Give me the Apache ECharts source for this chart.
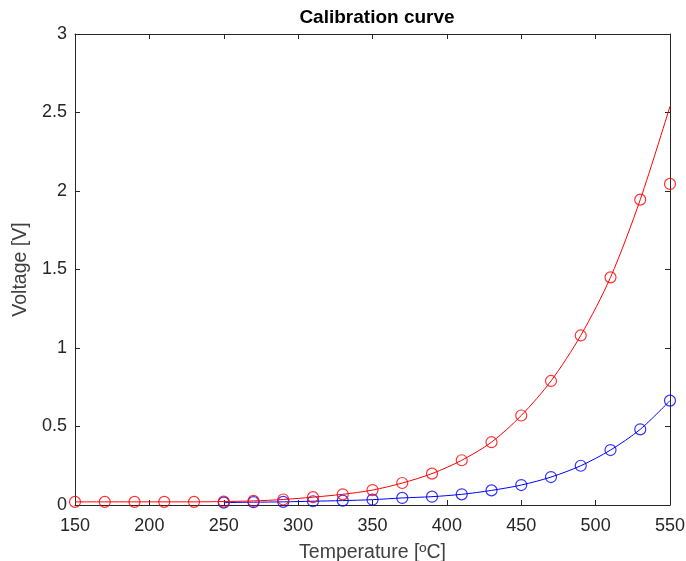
<!DOCTYPE html>
<html>
<head>
<meta charset="utf-8">
<title>Calibration curve</title>
<script src="https://cdn.jsdelivr.net/npm/echarts/dist/echarts.min.js"></script>
<style>
  html, body { margin: 0; padding: 0; background: #fff; }
  #main { width: 686px; height: 561px; }
</style>
</head>
<body>
<div id="main"></div>
<script>
// temperatures of the measured points [ºC]
const tempRed = [150, 170, 190, 210, 230, 250, 270, 290, 310, 330, 350, 370, 390, 410, 430, 450, 470, 490, 510, 530, 550];
const voltRed = [0.02, 0.02, 0.02, 0.02, 0.02, 0.022, 0.026, 0.035, 0.05, 0.068, 0.095, 0.14, 0.2, 0.285, 0.4, 0.57, 0.79, 1.08, 1.45, 1.945, 2.045];
// fitted curve for red (last point off the fit)
const fitRed = [0.02, 0.02, 0.02, 0.02, 0.02, 0.022, 0.026, 0.035, 0.05, 0.068, 0.095, 0.14, 0.2, 0.285, 0.4, 0.57, 0.79, 1.08, 1.45, 1.945, 2.54];

const tempBlue = [250, 270, 290, 310, 330, 350, 370, 390, 410, 430, 450, 470, 490, 510, 530, 550];
const voltBlue = [0.015, 0.018, 0.02, 0.024, 0.028, 0.034, 0.045, 0.053, 0.068, 0.093, 0.127, 0.178, 0.25, 0.35, 0.482, 0.665];
const fitBlue = [0.015, 0.018, 0.02, 0.024, 0.028, 0.034, 0.045, 0.053, 0.068, 0.093, 0.127, 0.178, 0.25, 0.35, 0.482, 0.665];

const xTicks = { min: 150, max: 550, interval: 50 };
const yTicks = { min: 0, max: 3, interval: 0.5 };

const FONT = "'Liberation Sans', Arial, Helvetica, sans-serif";
const AXIS = "#262626";

const pairs = (xs, ys) => xs.map((x, i) => [x, ys[i]]);

const axisBase = {
  type: "value",
  axisLine: { show: true, onZero: false, lineStyle: { color: AXIS, width: 1 } },
  axisTick: { show: true, inside: true, length: 5, lineStyle: { color: AXIS } },
  splitLine: { show: false }
};

// hollow circle marker, thin outline
const marker = (c) => ({
  type: "scatter",
  symbol: "circle",
  symbolSize: 11,
  itemStyle: { color: "rgba(0,0,0,0)", borderColor: c, borderWidth: 1.2 }
});

const myChart = echarts.init(document.getElementById("main"));
myChart.setOption({
  animation: false,
  textStyle: { fontFamily: FONT },
  title: {
    text: "Calibration curve",
    left: 372,
    textAlign: "center",
    top: 3,
    textStyle: { fontFamily: FONT, fontSize: 19, fontWeight: "bold", color: "#000" }
  },
  grid: { left: 75, right: 16, top: 34, bottom: 56, containLabel: false, outerBoundsMode: "none" },
  xAxis: [
    Object.assign({}, axisBase, xTicks, {
      position: "bottom",
      name: "Temperature [ºC]",
      nameLocation: "middle",
      nameGap: 38,
      nameTextStyle: { fontFamily: FONT, fontSize: 19.5, color: "#404040" },
      axisLabel: { fontFamily: FONT, fontSize: 18, color: AXIS, margin: 12 }
    }),
    Object.assign({}, axisBase, xTicks, {
      position: "top",
      axisLabel: { show: false }
    })
  ],
  yAxis: [
    Object.assign({}, axisBase, yTicks, {
      position: "left",
      name: "Voltage [V]",
      nameLocation: "middle",
      nameGap: 36,
      nameTextStyle: { fontFamily: FONT, fontSize: 19.5, color: "#404040" },
      axisLabel: { fontFamily: FONT, fontSize: 18, color: AXIS, margin: 8 }
    }),
    Object.assign({}, axisBase, yTicks, {
      position: "right",
      axisLabel: { show: false }
    })
  ],
  series: [
    {
      type: "line",
      data: pairs(tempBlue, fitBlue),
      smooth: 0.3,
      showSymbol: false,
      lineStyle: { color: "#0000ff", width: 1 },
      z: 2
    },
    Object.assign(marker("#0000ff"), { data: pairs(tempBlue, voltBlue), z: 3 }),
    {
      type: "line",
      data: pairs(tempRed, fitRed),
      smooth: 0.3,
      showSymbol: false,
      lineStyle: { color: "#ff0000", width: 1 },
      z: 4
    },
    Object.assign(marker("#ff0000"), { data: pairs(tempRed, voltRed), z: 5 })
  ]
});
</script>
</body>
</html>
